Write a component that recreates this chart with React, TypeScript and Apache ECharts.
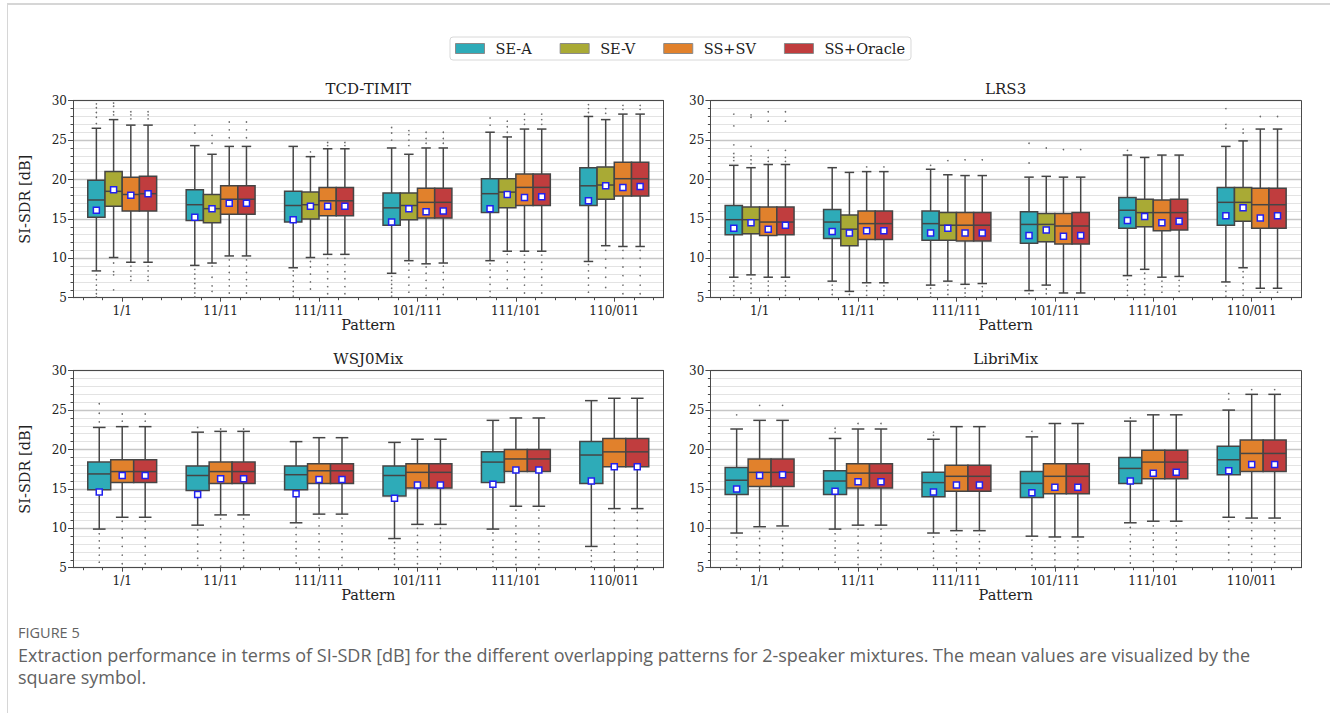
import React, { useEffect, useRef } from 'react';
import * as echarts from 'echarts';

const PATTERNS = ['1/1', '11/11', '111/111', '101/111', '111/101', '110/011'];
const METHODS = ['SE-A', 'SE-V', 'SS+SV', 'SS+Oracle'];
const COLORS = ['#2eabb8', '#a9aa35', '#e1812c', '#c03d3e'];
const Y_TICKS = [5, 10, 15, 20, 25, 30];
const PANEL_TITLES = ['TCD-TIMIT', 'LRS3', 'WSJ0Mix', 'LibriMix'];
const Y_NAME = 'SI-SDR [dB]';
const X_NAME = 'Pattern';
const MINOR_X = [-0.4, -0.2, 0.2, 0.4, 0.6, 0.8, 1.2, 1.4, 1.6, 1.8, 2.2, 2.4, 2.6, 2.8, 3.2, 3.4, 3.6, 3.8, 4.2, 4.4, 4.6, 4.8, 5.2, 5.4];

// stats per pattern: [lowWhisker, Q1, median, Q3, highWhisker, mean]
const tcdSEA = [
  [8.4, 15.2, 17.4, 19.9, 26.5, 16.1],
  [9.1, 14.8, 16.8, 18.7, 24.3, 15.2],
  [8.8, 14.6, 16.7, 18.5, 24.2, 14.9],
  [8.1, 14.2, 16.4, 18.3, 24.0, 14.6],
  [9.7, 15.8, 18.2, 20.1, 26.0, 16.3],
  [9.6, 16.7, 19.2, 21.5, 28.0, 17.3],
];
const tcdSEV = [
  [10.1, 16.6, 18.5, 21.0, 27.6, 18.7],
  [9.4, 14.5, 16.3, 18.1, 23.2, 16.3],
  [10.1, 15.0, 16.8, 18.4, 22.9, 16.6],
  [9.7, 14.9, 16.7, 18.3, 23.2, 16.3],
  [10.9, 16.4, 18.4, 20.1, 25.4, 18.1],
  [11.6, 17.5, 19.3, 21.6, 27.6, 19.2],
];
const tcdSSSV = [
  [9.5, 16.0, 18.1, 20.3, 26.9, 18.0],
  [10.3, 15.6, 17.5, 19.2, 24.2, 17.0],
  [10.5, 15.4, 17.3, 19.0, 23.9, 16.6],
  [9.3, 15.1, 17.1, 18.9, 24.0, 15.9],
  [10.9, 16.7, 19.0, 20.7, 26.4, 17.7],
  [11.5, 17.9, 20.1, 22.2, 28.3, 19.0],
];
const tcdOracle = [
  [9.5, 16.0, 18.2, 20.4, 26.9, 18.2],
  [10.3, 15.6, 17.5, 19.2, 24.2, 17.0],
  [10.5, 15.4, 17.3, 19.0, 23.9, 16.6],
  [9.4, 15.1, 17.1, 18.9, 24.0, 16.0],
  [10.9, 16.7, 19.0, 20.7, 26.4, 17.8],
  [11.5, 17.9, 20.1, 22.2, 28.3, 19.1],
];

const lrsSEA = [
  [7.6, 13.0, 14.9, 16.7, 21.8, 13.8],
  [7.1, 12.5, 14.6, 16.2, 21.5, 13.4],
  [6.6, 12.3, 14.4, 16.0, 21.3, 13.2],
  [5.9, 11.9, 14.3, 15.9, 20.3, 12.9],
  [7.8, 13.8, 16.1, 17.7, 23.1, 14.8],
  [7.0, 14.2, 17.1, 19.0, 24.2, 15.4],
];
const lrsSEV = [
  [7.9, 13.1, 14.9, 16.5, 21.5, 14.5],
  [5.8, 11.6, 13.7, 15.5, 20.9, 13.2],
  [7.1, 12.3, 14.2, 15.8, 20.6, 13.8],
  [6.6, 12.1, 14.3, 15.7, 20.4, 13.6],
  [8.6, 14.0, 15.8, 17.5, 22.8, 15.3],
  [8.8, 14.7, 17.1, 19.0, 24.9, 16.4],
];
const lrsSSSV = [
  [7.6, 12.9, 14.6, 16.5, 21.9, 13.7],
  [6.9, 12.4, 14.4, 16.0, 21.0, 13.5],
  [6.7, 12.2, 14.2, 15.8, 20.5, 13.2],
  [5.6, 11.8, 14.1, 15.7, 20.3, 12.8],
  [7.6, 13.5, 15.8, 17.4, 23.1, 14.5],
  [6.2, 13.8, 16.8, 18.9, 26.4, 15.1],
];
const lrsOracle = [
  [7.6, 13.0, 14.6, 16.5, 21.9, 14.2],
  [6.9, 12.4, 14.4, 16.0, 21.0, 13.5],
  [6.8, 12.2, 14.2, 15.8, 20.5, 13.2],
  [5.6, 11.8, 14.1, 15.8, 20.3, 12.9],
  [7.7, 13.6, 15.8, 17.5, 23.1, 14.7],
  [6.2, 13.8, 16.8, 18.9, 26.4, 15.4],
];

const wsjSEA = [
  [9.9, 14.9, 16.9, 18.4, 22.8, 14.6],
  [10.4, 14.8, 16.7, 17.9, 22.2, 14.3],
  [10.7, 14.9, 16.8, 17.9, 21.0, 14.4],
  [8.7, 14.1, 16.7, 17.9, 20.9, 13.8],
  [9.9, 15.8, 18.4, 19.7, 23.7, 15.6],
  [7.7, 15.7, 19.3, 21.0, 26.2, 16.0],
];
const wsjSSSV = [
  [11.4, 15.8, 17.2, 18.7, 22.9, 16.7],
  [11.7, 15.7, 17.2, 18.4, 22.3, 16.3],
  [11.8, 15.7, 17.3, 18.2, 21.5, 16.2],
  [10.5, 15.1, 17.1, 18.2, 21.3, 15.5],
  [12.8, 17.2, 18.8, 20.0, 24.0, 17.4],
  [12.5, 17.8, 19.7, 21.4, 26.5, 17.8],
];
const wsjOracle = [
  [11.4, 15.8, 17.2, 18.7, 22.9, 16.7],
  [11.7, 15.7, 17.2, 18.4, 22.3, 16.3],
  [11.8, 15.7, 17.3, 18.2, 21.5, 16.2],
  [10.5, 15.1, 17.1, 18.2, 21.3, 15.5],
  [12.8, 17.2, 18.8, 20.0, 24.0, 17.4],
  [12.5, 17.8, 19.7, 21.4, 26.5, 17.8],
];

const libSEA = [
  [9.4, 14.3, 16.1, 17.7, 22.6, 15.0],
  [9.9, 14.3, 16.0, 17.3, 21.4, 14.7],
  [9.4, 14.0, 15.8, 17.1, 21.3, 14.6],
  [9.0, 13.9, 15.7, 17.2, 21.6, 14.5],
  [10.7, 15.7, 17.6, 19.0, 23.6, 16.0],
  [11.4, 16.8, 18.7, 20.4, 25.0, 17.3],
];
const libSSSV = [
  [10.2, 15.3, 17.1, 18.8, 23.7, 16.7],
  [10.4, 15.1, 17.0, 18.2, 22.6, 15.9],
  [9.7, 14.7, 16.6, 18.0, 22.9, 15.5],
  [8.9, 14.4, 16.6, 18.2, 23.3, 15.2],
  [10.9, 16.3, 18.4, 19.9, 24.4, 17.0],
  [11.3, 17.2, 19.5, 21.2, 27.0, 18.1],
];
const libOracle = [
  [10.3, 15.3, 17.1, 18.8, 23.7, 16.8],
  [10.4, 15.1, 17.0, 18.2, 22.6, 15.9],
  [9.7, 14.7, 16.6, 18.0, 22.9, 15.5],
  [8.9, 14.4, 16.6, 18.2, 23.3, 15.2],
  [10.9, 16.3, 18.4, 19.9, 24.4, 17.1],
  [11.3, 17.2, 19.5, 21.2, 27.0, 18.1],
];

// outliers per pattern
const tcdSEAFliers = [
  [29.6, 29.1, 28.5, 27.9, 27.1, 7.9, 7.3, 6.6, 6.0, 5.5, 5.1],
  [26.9, 25.9, 8.6, 8.0, 7.4, 6.8, 6.2, 5.6, 5.1],
  [8.4, 7.8, 7.1, 6.4, 5.8, 5.2],
  [26.6, 25.9, 25.0, 7.7, 7.2, 6.7, 6.2, 5.7, 5.2],
  [27.8, 26.9, 9.3, 8.5, 7.6, 6.7, 5.8, 5.1],
  [29.5, 29.0, 28.5, 9.2, 8.4, 7.5, 6.6, 5.7],
];
const tcdSEVFliers = [
  [29.7, 29.3, 28.6, 28.2, 9.4, 8.3, 7.9, 6.0],
  [25.6, 24.6, 9.0, 7.6, 6.5, 5.8],
  [23.5, 9.6, 8.9, 8.0, 7.0, 6.1],
  [26.2, 25.7, 25.0, 24.3, 9.3, 8.5, 7.6, 6.6, 5.7],
  [27.4, 26.7, 26.0, 10.5, 9.5, 8.4, 7.3, 6.2],
  [29.0, 28.4, 11.0, 9.9, 8.8, 7.6, 6.3],
];
const tcdSSSVFliers = [
  [28.6, 28.2, 27.7, 9.0, 8.4, 7.7, 7.2],
  [27.3, 26.3, 25.3, 9.8, 9.0, 8.2, 7.3, 6.5, 5.6],
  [24.7, 24.3, 10.0, 9.2, 8.3, 7.4, 6.4, 5.5],
  [26.0, 25.2, 24.6, 8.9, 8.1, 7.2, 6.2, 5.3],
  [28.3, 27.6, 27.0, 10.4, 9.5, 8.6, 7.6, 6.6, 5.6],
  [29.4, 28.9, 11.0, 10.0, 8.9, 7.8, 6.6, 5.5],
];
const tcdOracleFliers = [
  [28.6, 28.2, 27.7, 9.0, 8.4, 7.7, 7.2],
  [27.3, 26.3, 25.3, 9.8, 9.0, 8.2, 7.3, 6.5, 5.6],
  [24.7, 24.3, 10.0, 9.2, 8.3, 7.4, 6.4, 5.5],
  [26.0, 25.2, 24.6, 9.0, 8.2, 7.3, 6.3, 5.4],
  [28.3, 27.6, 27.0, 10.4, 9.5, 8.6, 7.6, 6.6, 5.6],
  [29.4, 28.9, 11.0, 10.0, 8.9, 7.8, 6.6, 5.5],
];

const lrsSEAFliers = [
  [28.3, 26.8, 24.4, 23.3, 22.8, 22.4, 7.1, 6.5, 5.9, 5.3],
  [6.6, 6.0, 5.4],
  [21.8, 6.2, 5.6, 5.1],
  [24.6, 22.1, 5.5],
  [23.7, 7.3, 6.6, 5.9, 5.3],
  [29.0, 27.0, 26.5, 6.5, 5.8, 5.2],
];
const lrsSEVFliers = [
  [28.2, 27.9, 24.2, 23.0, 22.5, 22.0, 7.4, 6.8, 6.2, 5.6],
  [5.4],
  [22.4, 6.6, 6.0, 5.4],
  [24.0, 6.1, 5.5],
  [8.1, 7.4, 6.7, 6.0, 5.4],
  [26.4, 25.9, 8.3, 7.6, 6.8, 6.0, 5.3],
];
const lrsSSSVFliers = [
  [28.6, 27.4, 23.7, 22.8, 22.3, 7.1, 6.5, 5.9, 5.3],
  [21.6, 6.5, 5.9, 5.3],
  [22.5, 6.2, 5.6, 5.1],
  [23.8],
  [7.1, 6.4, 5.7],
  [28.0, 5.7],
];
const lrsOracleFliers = [
  [28.6, 27.4, 23.7, 22.8, 22.3, 7.1, 6.5, 5.9, 5.3],
  [21.6, 6.5, 5.9, 5.3],
  [22.5, 6.4, 5.8, 5.2],
  [23.8],
  [7.2, 6.5, 5.8],
  [28.0, 5.7],
];

const wsjSEAFliers = [
  [25.8, 24.6, 23.5, 9.3, 8.4, 7.5, 6.6, 5.7],
  [22.8, 9.8, 8.9, 8.0, 7.1, 6.2, 5.3],
  [10.1, 9.2, 8.3, 7.4, 6.5, 5.6],
  [8.2, 7.5, 6.8, 6.1, 5.4],
  [9.4, 8.5, 7.6, 6.7, 5.8, 5.1],
  [7.2, 6.5, 5.8, 5.1],
];
const wsjSSSVFliers = [
  [24.5, 23.6, 10.9, 9.9, 8.8, 7.7, 6.6, 5.5],
  [22.6, 11.2, 10.2, 9.2, 8.2, 7.2, 6.2, 5.2],
  [11.3, 10.3, 9.3, 8.3, 7.3, 6.3, 5.3],
  [10.0, 9.1, 8.2, 7.3, 6.4, 5.5],
  [12.3, 11.3, 10.3, 9.3, 8.3, 7.3, 6.3, 5.4],
  [12.0, 11.0, 10.0, 9.0, 8.0, 7.0, 6.0, 5.2],
];
const wsjOracleFliers = [
  [24.5, 23.6, 10.9, 9.9, 8.8, 7.7, 6.6, 5.5],
  [22.6, 11.2, 10.2, 9.2, 8.2, 7.2, 6.2, 5.2],
  [11.3, 10.3, 9.3, 8.3, 7.3, 6.3, 5.3],
  [10.0, 9.1, 8.2, 7.3, 6.4, 5.5],
  [12.3, 11.3, 10.3, 9.3, 8.3, 7.3, 6.3, 5.4],
  [12.0, 11.0, 10.0, 9.0, 8.0, 7.0, 6.0, 5.2],
];

const libSEAFliers = [
  [24.4, 8.8, 7.9, 7.0, 6.1, 5.3],
  [22.7, 22.2, 9.3, 8.4, 7.5, 6.6, 5.7],
  [22.2, 21.8, 8.9, 8.0, 7.1, 6.2, 5.3],
  [22.3, 8.5, 7.7, 6.9, 6.1, 5.3],
  [24.0, 10.1, 9.2, 8.3, 7.4, 6.5, 5.6],
  [27.1, 26.4, 10.9, 9.9, 8.9, 7.9, 6.9, 6.0],
];
const libSSSVFliers = [
  [25.6, 9.6, 8.7, 7.8, 6.9, 6.0, 5.2],
  [23.3, 9.9, 9.0, 8.1, 7.2, 6.3, 5.4],
  [9.2, 8.3, 7.4, 6.5, 5.6],
  [8.4, 7.6, 6.8, 6.0, 5.2],
  [10.3, 9.4, 8.5, 7.6, 6.7, 5.8],
  [27.6, 10.7, 9.7, 8.7, 7.7, 6.7, 5.7],
];
const libOracleFliers = [
  [25.6, 9.6, 8.7, 7.8, 6.9, 6.0, 5.2],
  [23.3, 9.9, 9.0, 8.1, 7.2, 6.3, 5.4],
  [9.2, 8.3, 7.4, 6.5, 5.6],
  [8.4, 7.6, 6.8, 6.0, 5.2],
  [10.3, 9.4, 8.5, 7.6, 6.7, 5.8],
  [27.6, 10.7, 9.7, 8.7, 7.7, 6.7, 5.7],
];

const PANELS = [
  { title: PANEL_TITLES[0], methods: [0, 1, 2, 3], stats: [tcdSEA, tcdSEV, tcdSSSV, tcdOracle], fliers: [tcdSEAFliers, tcdSEVFliers, tcdSSSVFliers, tcdOracleFliers] },
  { title: PANEL_TITLES[1], methods: [0, 1, 2, 3], stats: [lrsSEA, lrsSEV, lrsSSSV, lrsOracle], fliers: [lrsSEAFliers, lrsSEVFliers, lrsSSSVFliers, lrsOracleFliers] },
  { title: PANEL_TITLES[2], methods: [0, 2, 3], stats: [wsjSEA, wsjSSSV, wsjOracle], fliers: [wsjSEAFliers, wsjSSSVFliers, wsjOracleFliers] },
  { title: PANEL_TITLES[3], methods: [0, 2, 3], stats: [libSEA, libSSSV, libOracle], fliers: [libSEAFliers, libSSSVFliers, libOracleFliers] },
];

const CAPTION_LABEL = 'FIGURE 5';
const CAPTION_LINES = [
  'Extraction performance in terms of SI-SDR [dB] for the different overlapping patterns for 2-speaker mixtures. The mean values are visualized by the',
  'square symbol.',
];

// layout
const GRID_POS = [
  { left: 73, top: 100.7 },
  { left: 710.4, top: 100.7 },
  { left: 73, top: 370.7 },
  { left: 710.4, top: 370.7 },
];
const GRID_W = 590.5;
const GRID_H = 197;
const SERIF = 'DejaVu Serif';
const AX = '#4a4a4a';
const EDGE = '#454545';
const TXT = '#222';
const GROUP_W = 0.7;

function boxRender(k: number, n: number, color: string) {
  return (params: any, api: any) => {
    const cat = api.value(0);
    const lo = api.value(1);
    const q1 = api.value(2);
    const med = api.value(3);
    const q3 = api.value(4);
    const hi = api.value(5);
    const mean = api.value(6);
    const bandW = api.size([1, 0])[0];
    const cx = api.coord([cat, med])[0];
    const w = (bandW * GROUP_W) / n;
    const x0 = cx - (bandW * GROUP_W) / 2 + k * w;
    const xm = x0 + w / 2;
    const y = (v: number) => api.coord([cat, v])[1];
    const capW = w * 0.55;
    const ls = { stroke: EDGE, lineWidth: 1.5 };
    const ms = 6;
    return {
      type: 'group',
      children: [
        { type: 'line', shape: { x1: xm, y1: y(q3), x2: xm, y2: y(hi) }, style: ls },
        { type: 'line', shape: { x1: xm, y1: y(q1), x2: xm, y2: y(lo) }, style: ls },
        { type: 'line', shape: { x1: xm - capW / 2, y1: y(hi), x2: xm + capW / 2, y2: y(hi) }, style: ls },
        { type: 'line', shape: { x1: xm - capW / 2, y1: y(lo), x2: xm + capW / 2, y2: y(lo) }, style: ls },
        { type: 'rect', shape: { x: x0, y: y(q3), width: w, height: y(q1) - y(q3) }, style: { fill: color, stroke: EDGE, lineWidth: 1.5 } },
        { type: 'line', shape: { x1: x0, y1: y(med), x2: x0 + w, y2: y(med) }, style: ls },
        { type: 'rect', shape: { x: xm - ms / 2, y: y(mean) - ms / 2, width: ms, height: ms }, style: { fill: '#ffffff', stroke: '#2020f0', lineWidth: 1.5 } },
      ],
    };
  };
}

function flierRender(k: number, n: number) {
  return (params: any, api: any) => {
    const cat = api.value(0);
    const v = api.value(1);
    const bandW = api.size([1, 0])[0];
    const p = api.coord([cat, v]);
    const w = (bandW * GROUP_W) / n;
    const x = p[0] - (bandW * GROUP_W) / 2 + (k + 0.5) * w;
    return { type: 'circle', shape: { cx: x, cy: p[1], r: 0.8 }, style: { fill: '#6a6a6a' } };
  };
}

function buildOption(): any {
  const grid: any[] = [];
  const xAxis: any[] = [];
  const yAxis: any[] = [];
  const series: any[] = [];
  const graphic: any[] = [];

  PANELS.forEach((panel, p) => {
    const g = GRID_POS[p];
    const isLeft = p % 2 === 0;
    grid.push({ left: g.left, top: g.top, width: GRID_W, height: GRID_H, containLabel: false });
    xAxis.push({
      type: 'category',
      gridIndex: p,
      data: PATTERNS,
      position: 'bottom',
      boundaryGap: true,
      z: 1,
      name: X_NAME,
      nameLocation: 'middle',
      nameGap: 20,
      nameTextStyle: { fontFamily: SERIF, fontSize: 14.5, color: TXT },
      axisLine: { show: true, onZero: false, lineStyle: { color: AX, width: 1 } },
      axisTick: { show: true, alignWithLabel: true, length: 4, lineStyle: { color: AX } },
      axisLabel: { fontFamily: SERIF, fontSize: 12, color: TXT, margin: 7 },
      splitLine: { show: false },
    });
    xAxis.push({
      type: 'value',
      gridIndex: p,
      position: 'bottom',
      min: -0.5,
      max: 5.5,
      z: 1,
      axisLine: { show: false, onZero: false },
      axisTick: { show: true, customValues: MINOR_X, length: 2.5, lineStyle: { color: AX } },
      axisLabel: { show: false },
      splitLine: { show: false },
    });
    xAxis.push({
      type: 'category',
      gridIndex: p,
      data: PATTERNS,
      position: 'top',
      z: 1,
      axisLine: { show: true, onZero: false, lineStyle: { color: AX, width: 1 } },
      axisTick: { show: false },
      axisLabel: { show: false },
      splitLine: { show: false },
    });
    yAxis.push({
      type: 'value',
      gridIndex: p,
      position: 'left',
      min: Y_TICKS[0],
      max: Y_TICKS[Y_TICKS.length - 1],
      interval: Y_TICKS[1] - Y_TICKS[0],
      name: isLeft ? Y_NAME : '',
      nameLocation: 'middle',
      nameGap: 41,
      nameTextStyle: { fontFamily: SERIF, fontSize: 14.5, color: TXT },
      axisLine: { show: true, onZero: false, lineStyle: { color: AX, width: 1 } },
      axisTick: { show: true, length: 5, lineStyle: { color: AX } },
      minorTick: { show: true, splitNumber: 5, length: 2.5, lineStyle: { color: AX } },
      axisLabel: { fontFamily: SERIF, fontSize: 12, color: TXT, margin: 6 },
      splitLine: { show: true, lineStyle: { color: '#c6c6c6', width: 1.4 } },
      minorSplitLine: { show: true, lineStyle: { color: '#e3e3e3', width: 1 } },
    });
    yAxis.push({
      type: 'value',
      gridIndex: p,
      position: 'right',
      min: Y_TICKS[0],
      max: Y_TICKS[Y_TICKS.length - 1],
      interval: Y_TICKS[1] - Y_TICKS[0],
      axisLine: { show: true, onZero: false, lineStyle: { color: AX, width: 1 } },
      axisTick: { show: false },
      axisLabel: { show: false },
      splitLine: { show: false },
    });

    const n = panel.methods.length;
    panel.methods.forEach((m, k) => {
      const stats = panel.stats[k];
      const fl = panel.fliers[k];
      const flData: number[][] = [];
      fl.forEach((arr, i) => arr.forEach((v) => flData.push([i, v])));
      series.push({
        type: 'custom',
        name: METHODS[m],
        xAxisIndex: p * 3,
        yAxisIndex: p * 2,
        silent: true,
        z: 2,
        itemStyle: { color: COLORS[m] },
        renderItem: flierRender(k, n),
        data: flData,
      });
      series.push({
        type: 'custom',
        name: METHODS[m],
        xAxisIndex: p * 3,
        yAxisIndex: p * 2,
        silent: true,
        z: 3,
        itemStyle: { color: COLORS[m] },
        renderItem: boxRender(k, n, COLORS[m]),
        data: stats.map((s, i) => [i, ...s]),
      });
    });

    graphic.push({
      type: 'text',
      x: g.left + GRID_W / 2,
      y: g.top - 11.5,
      style: { text: panel.title, fontFamily: SERIF, fontSize: 15, fill: TXT, align: 'center', verticalAlign: 'middle' },
    });
  });

  graphic.push({
    type: 'text',
    x: 18,
    y: 632,
    style: { text: CAPTION_LABEL, fontFamily: 'Open Sans', fontSize: 14.5, fill: '#626262', align: 'left', verticalAlign: 'middle' },
  });
  CAPTION_LINES.forEach((line, i) => {
    graphic.push({
      type: 'text',
      x: 18,
      y: 655 + i * 22,
      style: { text: line, fontFamily: 'Open Sans', fontSize: 18, fill: '#626262', align: 'left', verticalAlign: 'middle' },
    });
  });

  return {
    animation: false,
    backgroundColor: 'transparent',
    legend: {
      show: true,
      selectedMode: false,
      orient: 'horizontal',
      left: 450,
      top: 37,
      itemWidth: 29,
      itemHeight: 10,
      itemGap: 28,
      padding: [4, 6, 4, 5],
      borderColor: '#d8d8d8',
      borderWidth: 1,
      borderRadius: 3,
      textStyle: { fontFamily: SERIF, fontSize: 14.5, color: TXT, padding: [0, 0, 0, 6] },
      data: METHODS.map((name, i) => ({ name, icon: 'rect', itemStyle: { color: COLORS[i], borderColor: '#8a8a8a', borderWidth: 1 } })),
    },
    grid,
    xAxis,
    yAxis,
    series,
    graphic,
  };
}

export default function App() {
  const ref = useRef<HTMLDivElement>(null);
  useEffect(() => {
    if (!ref.current) return;
    const chart = echarts.init(ref.current, null, { renderer: 'svg' });
    chart.setOption(buildOption());
    return () => {
      chart.dispose();
    };
  }, []);
  return (
    <div style={{ position: 'fixed', left: 0, top: 0, width: 1330, height: 713, background: '#ffffff', overflow: 'hidden' }}>
      <div style={{ position: 'absolute', left: 7, top: 3, right: -2, bottom: -2, borderTop: '2px solid #d6d6d6', borderLeft: '1px solid #d6d6d6' }} />
      <div ref={ref} style={{ position: 'absolute', left: 0, top: 0, width: 1330, height: 713 }} />
    </div>
  );
}
